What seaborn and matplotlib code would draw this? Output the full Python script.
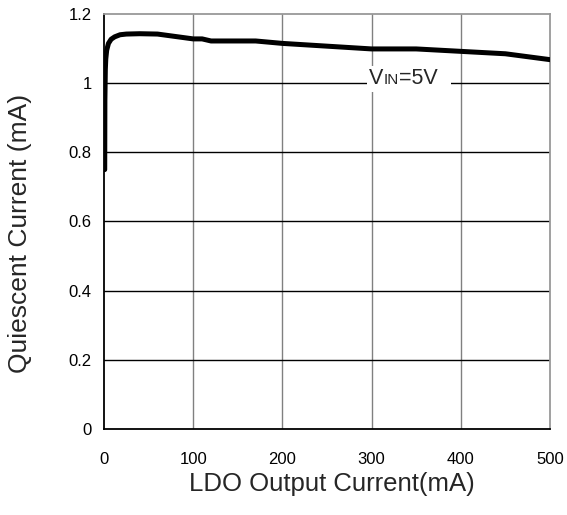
import pandas as pd
import matplotlib
matplotlib.use("Agg")
import matplotlib.pyplot as plt
import seaborn as sns

# values (V_IN = 5V)
load_ma = [0.8, 1.0, 1.5, 2, 3, 5, 8, 12, 18, 25, 40, 60, 80, 100, 110,
           120, 170, 200, 250, 300, 350, 400, 450, 500]
iq_ma = [0.75, 0.95, 1.04, 1.07, 1.095, 1.115, 1.127, 1.134, 1.14, 1.142,
         1.143, 1.142, 1.135, 1.128, 1.128, 1.122, 1.122, 1.115, 1.107,
         1.099, 1.099, 1.092, 1.085, 1.068]
x_ticks = [0, 100, 200, 300, 400, 500]
y_ticks = [0, 0.2, 0.4, 0.6, 0.8, 1.0, 1.2]
y_tick_labels = ["0", "0.2", "0.4", "0.6", "0.8", "1", "1.2"]

df = pd.DataFrame({"load": load_ma, "iq": iq_ma})

sns.set_style("white")
plt.rcParams["font.family"] = ["Liberation Sans", "DejaVu Sans"]

fig = plt.figure(figsize=(5.67, 5.15), dpi=100)
ax = fig.add_axes([104 / 567, 1 - 429 / 515, 446 / 567, 415 / 515])

sns.lineplot(data=df, x="load", y="iq", ax=ax, color="black", lw=3.6,
             zorder=5)

ax.set_xlim(0, 500)
ax.set_ylim(0, 1.2)
ax.set_xticks(x_ticks)
ax.set_yticks(y_ticks)
ax.set_yticklabels(y_tick_labels)
ax.tick_params(axis="both", labelsize=12, length=0, colors="black")
ax.tick_params(axis="x", pad=16.5)
ax.tick_params(axis="y", pad=9)

for xv in x_ticks[1:-1]:
    ax.axvline(xv, color="#808080", lw=1, zorder=1)
for yv in y_ticks[1:-1]:
    ax.axhline(yv, color="black", lw=1, zorder=1)

ax.spines["left"].set_color("black")
ax.spines["bottom"].set_color("black")
ax.spines["left"].set_linewidth(1.3)
ax.spines["bottom"].set_linewidth(1.3)
ax.spines["top"].set_color("#999999")
ax.spines["right"].set_color("#999999")
ax.spines["top"].set_linewidth(1.3)
ax.spines["right"].set_linewidth(1.3)

ax.set_xlabel("LDO Output Current(mA)", fontsize=18.5, labelpad=4)
ax.set_ylabel("Quiescent Current (mA)", fontsize=19, labelpad=26)
ax.xaxis.label.set_x(0.511)
ax.yaxis.label.set_y(0.472)

# V_IN label with small-caps "IN" and white background
ax.add_patch(plt.Rectangle((295, 0.975), 94, 0.075, facecolor="white",
                           edgecolor="none", zorder=3))
t1 = ax.text(297, 0.983, "V", fontsize=15.5, va="bottom", ha="left", zorder=4)
t2 = ax.annotate("IN", xy=(1, 0), xycoords=t1, fontsize=11,
                 va="bottom", ha="left", zorder=4,
                 xytext=(0, 1.8), textcoords="offset points")
ax.annotate("=5V", xy=(1, 0), xycoords=t2, fontsize=15.5, va="bottom",
            ha="left", zorder=4, xytext=(0, -1.8), textcoords="offset points")

fig.savefig("out.png", dpi=100)
